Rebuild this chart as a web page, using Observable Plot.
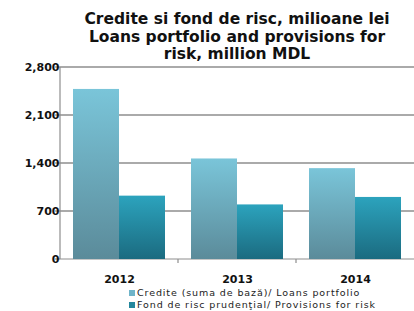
<!DOCTYPE html>
<html><head><meta charset="utf-8">
<script src="https://cdn.jsdelivr.net/npm/d3@7"></script>
<script src="https://cdn.jsdelivr.net/npm/@observablehq/plot@0.6"></script>
<style>
body{margin:0;background:#fff;}
#wrap{position:relative;width:414px;height:311px;overflow:hidden;font-family:"DejaVu Sans",Verdana,sans-serif;background:#fff;}
#title{position:absolute;left:60px;top:11px;width:354px;text-align:center;font-weight:bold;font-size:15.5px;line-height:17.5px;color:#111;}
#chart{position:absolute;left:0;top:60px;}
#legend{position:absolute;left:129px;top:287px;font-size:9.5px;line-height:12px;color:#222;letter-spacing:0.9px;}
#legend div{white-space:nowrap;}
.sw{display:inline-block;width:6px;height:6px;margin-right:2px;}
</style></head>
<body>
<div id="wrap">
  <div id="title"></div>
  <div id="chart"></div>
  <div id="legend"></div>
</div>
<script>
const titleLines = ["Credite si fond de risc, milioane lei", "Loans portfolio and provisions for", "risk, million MDL"];
const years = ["2012", "2013", "2014"];
const crediteValues = [2480, 1466, 1325];
const fondValues = [924, 796, 905];
const seriesKeys = ["credite", "fond"];
const seriesLabels = ["Credite (suma de bază)/ Loans portfolio", "Fond de risc prudenţial/ Provisions for risk"];
const yTicks = [0, 700, 1400, 2100, 2800];
const gradStops = {credite: ["#7ac5d9", "#5b8b9a"], fond: ["#2ca3bd", "#1b6b80"]};
const swatchColors = ["#6fb4c9", "#23879d"];

document.getElementById("title").innerHTML = titleLines.join("<br>");

const data = years.flatMap((y, i) => [
  {year: y, series: "credite", value: crediteValues[i]},
  {year: y, series: "fond", value: fondValues[i]}
]);

const plot = Plot.plot({
  width: 414, height: 220,
  marginLeft: 60, marginRight: 0, marginTop: 7, marginBottom: 21,
  style: {fontFamily: "DejaVu Sans, Verdana, sans-serif", fontSize: "11px", fontWeight: "bold", color: "#111", background: "transparent", overflow: "visible"},
  fx: {domain: years, paddingInner: 0.22, paddingOuter: 0.11, label: null, axis: "bottom", tickSize: 0, tickPadding: 16},
  x: {domain: seriesKeys, padding: 0, axis: null},
  y: {domain: [0, 2800], ticks: yTicks, tickFormat: d3.format(","), tickSize: 0, tickPadding: 14, label: null},
  marks: [
    Plot.barY(data.filter(d => d.series === "credite"), {fx: "year", x: "series", y: "value", fill: "url(#grad-credite)"}),
    Plot.barY(data.filter(d => d.series === "fond"), {fx: "year", x: "series", y: "value", fill: "url(#grad-fond)"})
  ]
});

const svg = d3.select(plot);
const defs = svg.insert("defs", ":first-child");
for (const k of seriesKeys) {
  const g = defs.append("linearGradient").attr("id", "grad-" + k).attr("x1", 0).attr("y1", 0).attr("x2", 0).attr("y2", 1);
  g.append("stop").attr("offset", "0%").attr("stop-color", gradStops[k][0]);
  g.append("stop").attr("offset", "100%").attr("stop-color", gradStops[k][1]);
}
const y = plot.scale("y");
const fx = plot.scale("fx");
const [x0, x1] = fx.range;
const grid = svg.insert("g", "defs + *").attr("stroke", "#8e8e8e").attr("fill", "none");
for (const t of yTicks) {
  grid.append("line").attr("x1", x0).attr("x2", x1).attr("y1", y.apply(t)).attr("y2", y.apply(t)).attr("stroke-width", t === 0 ? 1.2 : 1.5);
  grid.append("line").attr("x1", x0 - 5).attr("x2", x0).attr("y1", y.apply(t)).attr("y2", y.apply(t)).attr("stroke-width", 1.2);
}
grid.append("line").attr("x1", x0).attr("x2", x0).attr("y1", y.apply(2800)).attr("y2", y.apply(0)).attr("stroke-width", 1.2);
const bw = fx.bandwidth;
for (let i = 0; i < years.length - 1; i++) {
  const bx = (fx.apply(years[i]) + bw + fx.apply(years[i + 1])) / 2;
  grid.append("line").attr("x1", bx).attr("x2", bx).attr("y1", y.apply(0)).attr("y2", y.apply(0) + 4).attr("stroke-width", 1.2);
}
document.getElementById("chart").appendChild(plot);

const legend = document.getElementById("legend");
seriesLabels.forEach((lab, i) => {
  const row = document.createElement("div");
  row.innerHTML = `<span class="sw" style="background:${swatchColors[i]}"></span>${lab}`;
  legend.appendChild(row);
});
</script>
</body></html>
